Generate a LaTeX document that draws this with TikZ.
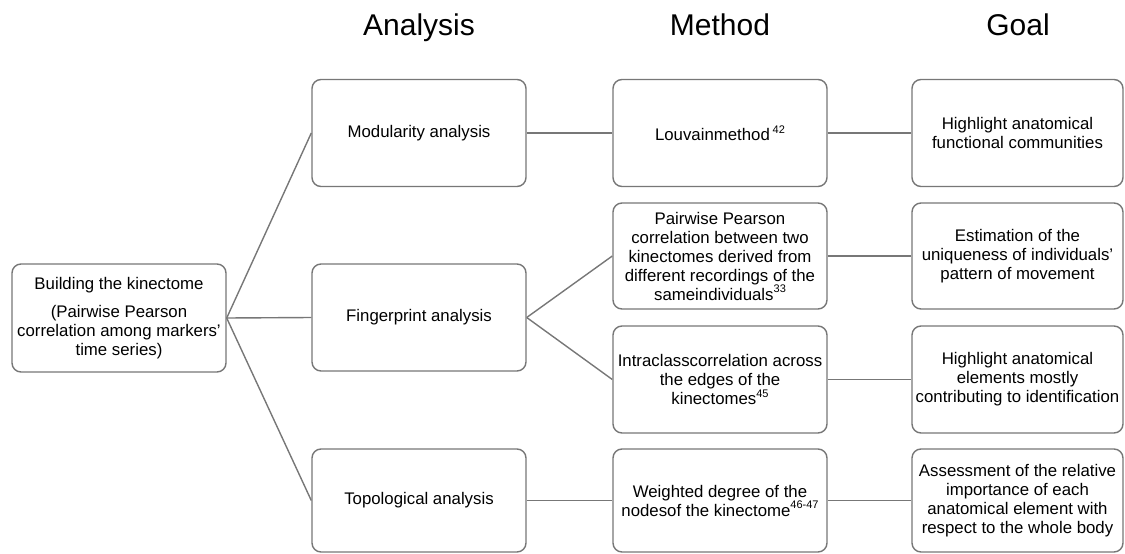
\documentclass[tikz,border=0pt]{standalone}
\usepackage{fontspec}
\setmainfont{Liberation Sans}
\definecolor{edgegray}{HTML}{777777}
\newcommand\supnum[1]{\raisebox{0.42em}{\fontsize{11}{11}\selectfont #1}}
\tikzset{
  box/.style={draw=edgegray, line width=1.4pt, rounded corners=9pt, fill=white,
    align=center, inner sep=0pt, font=\fontsize{16.8}{19}\selectfont, minimum width=214pt},
  goalbox/.style={box, minimum width=211pt},
  link/.style={draw=edgegray, line width=1.4pt},
  head/.style={font=\fontsize{30}{36}\selectfont, anchor=base}
}
\begin{document}
\begin{tikzpicture}[x=1pt,y=-1pt]
\useasboundingbox (0,0) rectangle (1125,554);
% headers
\node[head] (hA) at (419,35) {Analysis};
\node[head] (hM) at (720,35) {Method};
\node[head] (hG) at (1018,35) {Goal};
% left
\node[box, minimum height=108pt] (build) at (119,318) {Building the kinectome\\[9pt](Pairwise Pearson\\correlation among markers’\\time series)};
% analysis
\node[box, minimum height=107pt] (mod) at (419,133) {Modularity analysis};
\node[box, minimum height=107pt] (fing) at (419,317.5) {Fingerprint analysis};
\node[box, minimum height=103pt] (topo) at (419,500.5) {Topological analysis};
% method
\node[box, minimum height=107pt] (louv) at (720,133) {Louvainmethod\,\supnum{42}};
\node[box, minimum height=106pt] (pair) at (720,256) {Pairwise Pearson\\correlation between two\\kinectomes derived from\\different recordings of the\\sameindividuals\supnum{33}};
\node[box, minimum height=107pt] (intra) at (720,379.5) {Intraclasscorrelation across\\the edges of the\\kinectomes\supnum{45}};
\node[box, minimum height=103pt] (weigh) at (720,500.5) {Weighted degree of the\\nodesof the kinectome\supnum{46-47}};
% goal
\node[goalbox, minimum height=107pt] (g1) at (1017.5,133) {Highlight anatomical\\functional communities};
\node[goalbox, minimum height=106pt] (g2) at (1017.5,256) {Estimation of the\\uniqueness of individuals’\\pattern of movement};
\node[goalbox, minimum height=107pt] (g3) at (1017.5,379.5) {Highlight anatomical\\elements mostly\\contributing to identification};
\node[goalbox, minimum height=103pt] (g4) at (1017.5,500.5) {Assessment of the relative\\importance of each\\anatomical element with\\respect to the whole body};
% connectors
\draw[link] (build.east) -- (mod.west);
\draw[link] (build.east) -- (fing.west);
\draw[link] (build.east) -- (topo.west);
\draw[link] (mod.east) -- (louv.west);
\draw[link] (fing.east) -- (pair.west);
\draw[link] (fing.east) -- (intra.west);
\draw[link] (topo.east) -- (weigh.west);
\draw[link] (louv.east) -- (g1.west);
\draw[link] (pair.east) -- (g2.west);
\draw[link] (intra.east) -- (g3.west);
\draw[link] (weigh.east) -- (g4.west);
\end{tikzpicture}
\end{document}
